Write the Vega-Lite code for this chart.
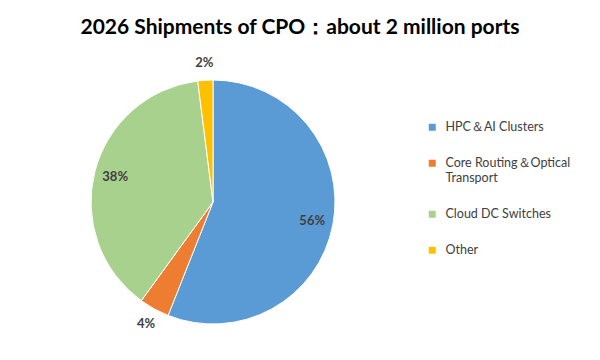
{
  "$schema": "https://vega.github.io/schema/vega-lite/v6.json",
  "autosize": {"type": "none"},
  "width": 244,
  "height": 244,
  "padding": {"left": 91, "top": 80, "right": 265, "bottom": 36},
  "background": "white",
  "title": {
    "text": "2026 Shipments of CPO：about 2 million ports",
    "font": "Lato",
    "fontSize": 21,
    "fontWeight": "bold",
    "color": "#000000",
    "anchor": "middle",
    "dx": 87,
    "offset": 19
  },
  "data": {
    "values": [
      {"category": "HPC＆AI Clusters", "share": 0.56, "order": 1, "placement": "inside"},
      {"category": "Core Routing＆Optical Transport", "share": 0.04, "order": 2, "placement": "outside"},
      {"category": "Cloud DC Switches", "share": 0.38, "order": 3, "placement": "inside"},
      {"category": "Other", "share": 0.02, "order": 4, "placement": "outside"}
    ]
  },
  "encoding": {
    "theta": {"field": "share", "type": "quantitative", "stack": true},
    "order": {"field": "order", "type": "quantitative"}
  },
  "layer": [
    {
      "mark": {"type": "arc", "stroke": "white", "strokeWidth": 1},
      "encoding": {
        "color": {
          "field": "category",
          "type": "nominal",
          "scale": {
            "domain": ["HPC＆AI Clusters", "Core Routing＆Optical Transport", "Cloud DC Switches", "Other"],
            "range": ["#5B9BD5", "#ED7D31", "#A9D18E", "#FFC000"]
          },
          "legend": {
            "orient": "none",
            "legendX": 335,
            "legendY": 41,
            "title": null,
            "symbolType": "square",
            "symbolSize": 49,
            "symbolStrokeWidth": 0,
            "labelFont": "Lato",
            "labelFontSize": 12.5,
            "labelColor": "#404040",
            "labelOffset": 7,
            "labelLimit": 200,
            "rowPadding": 23,
            "labelExpr": "datum.label == 'Core Routing＆Optical Transport' ? ['Core Routing＆Optical', 'Transport'] : datum.label"
          }
        }
      }
    },
    {
      "mark": {"type": "text", "radius": 101, "font": "Lato", "fontSize": 13, "fontWeight": "bold"},
      "encoding": {
        "text": {"field": "share", "type": "quantitative", "format": ".0%"},
        "color": {"value": "#404040"},
        "opacity": {"condition": {"test": "datum.placement == 'inside'", "value": 1}, "value": 0}
      }
    },
    {
      "mark": {"type": "text", "radius": 139, "font": "Lato", "fontSize": 13, "fontWeight": "bold"},
      "encoding": {
        "text": {"field": "share", "type": "quantitative", "format": ".0%"},
        "color": {"value": "#404040"},
        "opacity": {"condition": {"test": "datum.placement == 'outside'", "value": 1}, "value": 0}
      }
    }
  ],
  "config": {"view": {"stroke": null}}
}
